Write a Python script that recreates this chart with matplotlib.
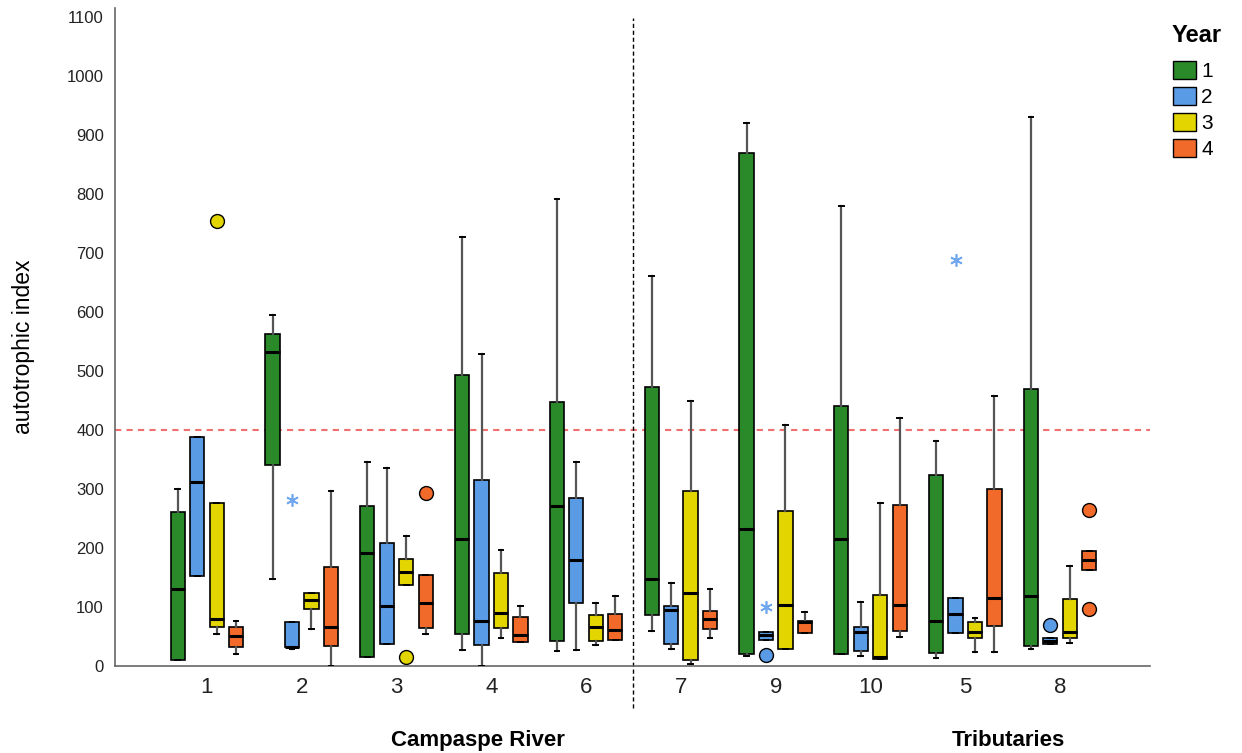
import numpy as np
import matplotlib.pyplot as plt
from matplotlib.patches import Patch
import matplotlib.transforms as mtransforms

# sites in plotting order, river sites then tributaries
sites = ["1", "2", "3", "4", "6", "7", "9", "10", "5", "8"]
years = ["1", "2", "3", "4"]
year_colors = ["#2a8a2a", "#5a9be6", "#e2d500", "#f26a2a"]

# box statistics per site, one row per site, one column per year
q1 = [[10, 152, 66, 32], [341, 32, 97, 34], [16, 37, 137, 64], [55, 35, 64, 41], [42, 106, 42, 44],
      [87, 38, 11, 62], [20, 44, 29, 56], [20, 26, 12, 60], [22, 56, 48, 68], [34, 38, 48, 163]]
med = [[130, 312, 79, 51], [532, 33, 112, 67], [192, 102, 159, 106], [216, 76, 90, 53], [271, 179, 66, 61],
       [148, 95, 124, 79], [233, 53, 103, 74], [216, 58, 16, 103], [76, 88, 58, 115], [119, 43, 58, 180]]
q3 = [[261, 388, 276, 66], [563, 75, 124, 168], [271, 208, 181, 154], [493, 315, 157, 83], [448, 284, 86, 89],
      [473, 102, 297, 93], [870, 57, 263, 76], [440, 67, 120, 273], [323, 116, 75, 300], [469, 47, 113, 195]]
whis_lo = [[10, 152, 54, 20], [147, 29, 63, 0], [16, 37, 137, 55], [27, 0, 47, 41], [26, 28, 35, 44],
           [60, 29, 3, 48], [17, 44, 29, 56], [20, 17, 12, 50], [14, 56, 24, 24], [29, 38, 39, 163]]
whis_hi = [[300, 388, 276, 76], [595, 75, 124, 297], [346, 336, 220, 154], [727, 529, 197, 101], [791, 346, 106, 118],
           [661, 141, 449, 131], [920, 57, 408, 92], [780, 109, 277, 420], [381, 116, 81, 458], [931, 47, 170, 195]]

# outliers (circles) and extremes (stars): (site index, year index, value)
outliers = [(0, 2, 755), (2, 2, 15), (2, 3, 293), (6, 1, 19), (9, 1, 70), (9, 3, 264), (9, 3, 97)]
extremes = [(1, 1, 281), (6, 1, 100), (8, 1, 688)]

threshold = 400

plt.rcParams["font.family"] = ["Liberation Sans", "DejaVu Sans"]
fig = plt.figure(figsize=(12.42, 7.53), dpi=100)
ax = fig.add_axes([0.0926, 0.1155, 0.8334, 0.8735])

offsets = np.array([-1.5, -0.5, 0.5, 1.5]) * 0.205
width = 0.15

for j in range(len(years)):
    stats = []
    for i in range(len(sites)):
        stats.append({"med": med[i][j], "q1": q1[i][j], "q3": q3[i][j],
                      "whislo": whis_lo[i][j], "whishi": whis_hi[i][j], "fliers": []})
    pos = np.arange(len(sites)) + offsets[j]
    ax.bxp(stats, positions=pos, widths=width, patch_artist=True, showfliers=False,
           boxprops=dict(facecolor=year_colors[j], edgecolor="black", linewidth=1.2),
           medianprops=dict(color="black", linewidth=2.2),
           whiskerprops=dict(color="#555555", linewidth=1.6),
           capprops=dict(color="black", linewidth=1.4), capwidths=0.05, zorder=3)

for i, j, v in outliers:
    ax.plot(i + offsets[j], v, marker="o", markersize=10, markerfacecolor=year_colors[j],
            markeredgecolor="black", markeredgewidth=1.0, linestyle="none", zorder=4)
for i, j, v in extremes:
    ax.plot(i + offsets[j], v, marker=(6, 2, 0), markersize=9, color="#6fa6ee",
            markeredgewidth=1.2, linestyle="none", zorder=4)

ax.axhline(threshold, color="#f07070", linestyle=(0, (3, 2.5)), linewidth=1.5, zorder=2)

# separator between river and tributary sites
trans = mtransforms.blended_transform_factory(ax.transData, ax.transAxes)
ax.plot([4.5, 4.5], [-0.064, 0.985], transform=trans, color="black", linestyle=(0, (3, 2)),
        linewidth=1.0, clip_on=False)

ax.set_xlim(-0.97, 9.95)
ax.set_ylim(0, 1115)
ax.set_yticks(np.arange(0, 1101, 100))
ax.set_xticks(np.arange(len(sites)))
ax.set_xticklabels(sites, fontsize=16, color="#222222")
ax.tick_params(axis="y", length=0, labelsize=12, pad=8, labelcolor="#222222")
ax.tick_params(axis="x", length=0, pad=8)
for s in ["top", "right"]:
    ax.spines[s].set_visible(False)
for s in ["left", "bottom"]:
    ax.spines[s].set_color("#666666")
    ax.spines[s].set_linewidth(1.2)

fig.text(24 / 1242, 1 - 347 / 753, "autotrophic index", rotation=90, ha="center", va="center",
         fontsize=16.5)

ax.text(2.86, -0.113, "Campaspe River", transform=trans, ha="center", va="center",
        fontsize=16, fontweight="bold")
ax.text(8.45, -0.113, "Tributaries", transform=trans, ha="center", va="center",
        fontsize=16, fontweight="bold")

# legend
fig.text(1197 / 1242, 1 - 35 / 753, "Year", ha="center", va="center", fontsize=17, fontweight="bold")
handles = [Patch(facecolor=c, edgecolor="black", linewidth=1.0) for c in year_colors]
fig.legend(handles, years, loc="upper left", bbox_to_anchor=(1173 / 1242, 1 - 61 / 753),
           frameon=False, fontsize=15, borderpad=0, borderaxespad=0,
           handlelength=1.1, handleheight=0.95, handletextpad=0.25, labelspacing=0.28)

fig.savefig("out.png", dpi=100)
